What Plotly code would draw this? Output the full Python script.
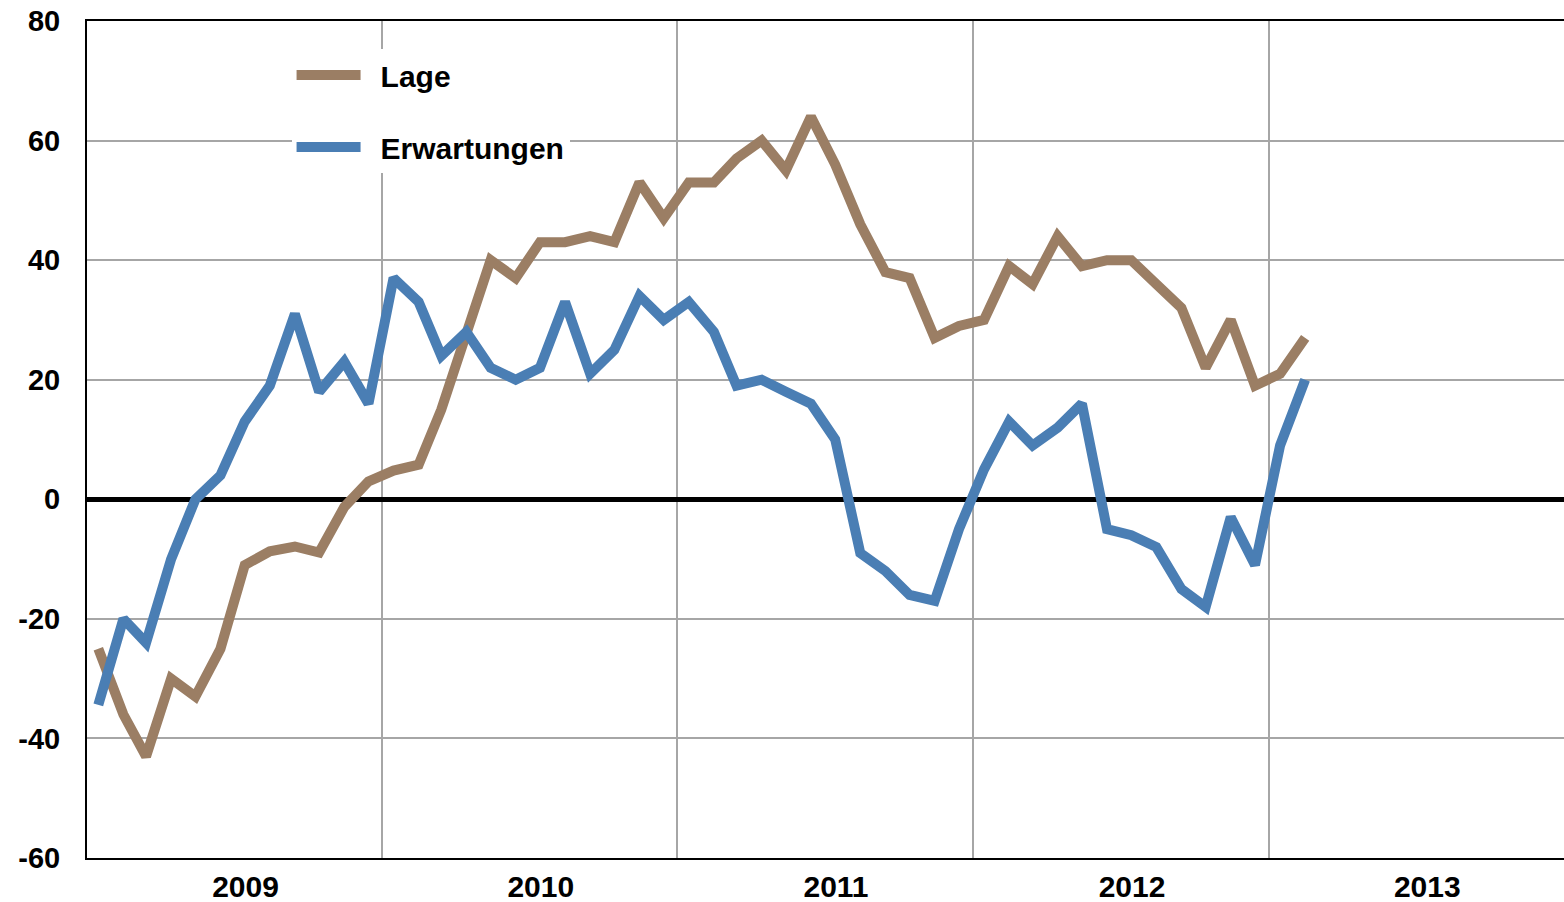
import plotly.graph_objects as go

# Monthly observations, Jan 2009 - Feb 2013 (plotted at mid-month)
months = [f"{2009 + i // 12}-{i % 12 + 1:02d}-15" for i in range(50)]

lage = [-25, -36, -43, -30, -33, -25, -11, -8.7, -7.9, -8.9,
        -1.3, 3, 4.8, 5.8, 15, 28, 40, 37, 43, 43,
        44, 43, 53, 47, 53, 53, 57, 60, 55, 64,
        56, 46, 38, 37, 27, 29, 30, 39, 36, 44,
        39, 40, 40, 36, 32, 22, 30, 19, 21, 27]

erwartungen = [-34.4, -20, -24, -10, 0, 4, 13, 19, 31, 18,
               23, 16, 37, 33, 24, 28, 22, 20, 22, 33,
               21, 25, 34, 30, 33, 28, 19, 20, 18, 16,
               10, -9, -12, -16, -17, -5, 5, 13, 9, 12,
               16, -5, -6, -8, -15, -18, -3, -11, 9, 20]

year_ticks = ["2009-07-16", "2010-07-16", "2011-07-16", "2012-07-16", "2013-07-16"]
year_labels = ["2009", "2010", "2011", "2012", "2013"]

y_ticks = [-60, -40, -20, 0, 20, 40, 60, 80]
y_labels = ["-60", "-40", "-20", "0", "20", "40", "60", "80"]

BROWN = "#9B7E64"
BLUE = "#4A7EB4"
GRID = "#A6A6A6"
FONT = "Arial, Liberation Sans, sans-serif"
GAP = "\u2002"  # spacing between legend symbol and text

fig = go.Figure()
fig.add_trace(go.Scatter(x=months, y=lage, name=GAP + "Lage", mode="lines",
                         line=dict(color=BROWN, width=10), legendgroup="a"))
fig.add_trace(go.Scatter(x=months, y=erwartungen, name=GAP + "Erwartungen", mode="lines",
                         line=dict(color=BLUE, width=10), legendgroup="b"))

fig.update_layout(
    width=1564, height=902,
    margin=dict(l=87, r=0, t=21, b=44, autoexpand=False),
    paper_bgcolor="white", plot_bgcolor="white",
    font=dict(family=FONT, size=29, color="black", weight="bold"),
    showlegend=True,
    legend=dict(
        x=0.1385, y=0.9665, xanchor="left", yanchor="top",
        bgcolor="white", borderwidth=0,
        font=dict(family=FONT, size=30, color="black", weight="bold"),
        itemwidth=64, tracegroupgap=30, traceorder="grouped",
    ),
    xaxis=dict(
        type="date", automargin=False,
        range=["2009-01-01", "2014-01-01"],
        tickmode="array", tickvals=year_ticks, ticktext=year_labels,
        showgrid=False, ticks="",
        minor=dict(dtick="M12", tick0="2009-01-01", showgrid=True,
                   gridcolor=GRID, gridwidth=2, ticks=""),
        showline=True, linecolor="black", linewidth=2, mirror=True,
        tickfont=dict(family=FONT, size=30, color="black", weight="bold"),
        ticklabelstandoff=1,
    ),
    yaxis=dict(
        automargin=False,
        range=[-60, 80],
        tickmode="array", tickvals=y_ticks, ticktext=y_labels,
        showgrid=True, gridcolor=GRID, gridwidth=2,
        zeroline=True, zerolinecolor="black", zerolinewidth=5,
        showline=True, linecolor="black", linewidth=2,
        ticks="", ticklabelstandoff=19,
        tickfont=dict(family=FONT, size=29, color="black", weight="bold"),
    ),
)

fig.write_html(
    "out.html",
    config={"displayModeBar": False},
    post_script="document.body.style.margin='0';document.body.style.overflow='hidden';",
)
